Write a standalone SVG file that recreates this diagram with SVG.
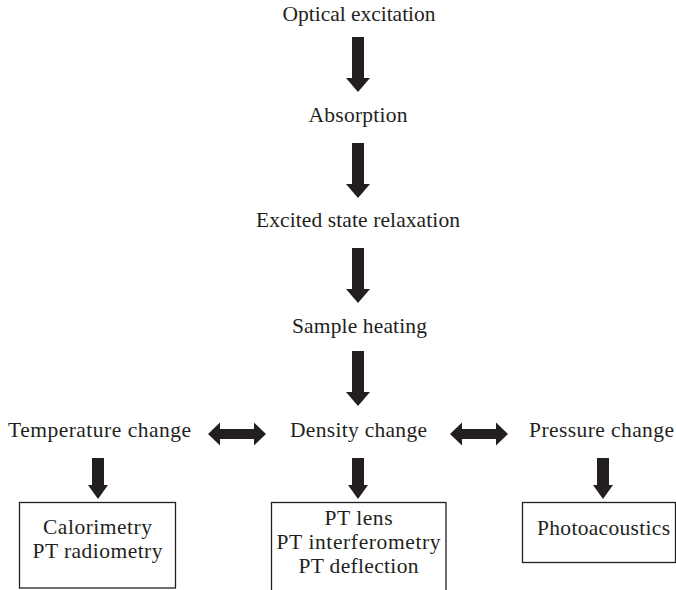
<svg xmlns="http://www.w3.org/2000/svg" width="676" height="590" viewBox="0 0 676 590">
  <defs>
    <!-- solid block arrow pointing down, origin at top centre of shaft -->
    <path id="down-long" d="M-6,0 H6 V41 H12 L0,55 L-12,41 H-6 Z"/>
    <path id="down-short" d="M-6,0 H6 V27 H10 L0,41 L-10,27 H-6 Z"/>
    <!-- horizontal double-headed block arrow, origin at left tip -->
    <path id="both-ways" d="M0,0 L12,-11.5 V-5 H46 V-11.5 L58,0 L46,11.5 V5 H12 V11.5 Z"/>
  </defs>
  <style>
    text { font-family: "Liberation Serif", "Times New Roman", serif; font-size: 21.5px; fill: #231f20; }
    .c { text-anchor: middle; }
    .arrow { fill: #231f20; }
    .box { fill: none; stroke: #231f20; stroke-width: 1.3; }
  </style>

  <rect width="676" height="590" fill="#ffffff"/>

  <!-- process chain -->
  <g id="optical-excitation"><text class="c" x="359" y="21" textLength="153">Optical excitation</text></g>
  <g id="absorption"><text class="c" x="358" y="122" textLength="99">Absorption</text></g>
  <g id="excited-state-relaxation"><text class="c" x="358" y="227" textLength="204">Excited state relaxation</text></g>
  <g id="sample-heating"><text class="c" x="359.5" y="333" textLength="135">Sample heating</text></g>

  <!-- resulting changes -->
  <g id="temperature-change"><text x="8" y="437" textLength="183">Temperature change</text></g>
  <g id="density-change"><text class="c" x="358.5" y="437" textLength="137">Density change</text></g>
  <g id="pressure-change"><text x="529" y="437" textLength="145">Pressure change</text></g>

  <!-- detection methods -->
  <g id="calorimetry-box">
    <rect class="box" x="19.5" y="502.5" width="156" height="85.5"/>
    <text class="c" x="97.5" y="534" textLength="109">Calorimetry</text>
    <text class="c" x="97.5" y="558" textLength="130">PT radiometry</text>
  </g>
  <g id="pt-methods-box">
    <rect class="box" x="271.5" y="502.5" width="174.5" height="95"/>
    <text class="c" x="358.5" y="525" textLength="68">PT lens</text>
    <text class="c" x="358.5" y="549" textLength="164">PT interferometry</text>
    <text class="c" x="358.5" y="573" textLength="120">PT deflection</text>
  </g>
  <g id="photoacoustics-box">
    <rect class="box" x="522.5" y="502.5" width="153" height="60"/>
    <text class="c" x="603.5" y="535" textLength="133">Photoacoustics</text>
  </g>

  <!-- connectors -->
  <g id="connectors" class="arrow">
    <use href="#down-long" x="358" y="37"/>
    <use href="#down-long" x="358" y="143"/>
    <use href="#down-long" x="358" y="248"/>
    <use href="#down-long" x="358" y="351"/>
    <use href="#both-ways" x="208" y="434"/>
    <use href="#both-ways" x="450" y="434"/>
    <use href="#down-short" x="98" y="458"/>
    <use href="#down-short" x="358" y="458"/>
    <use href="#down-short" x="603" y="458"/>
  </g>
</svg>
